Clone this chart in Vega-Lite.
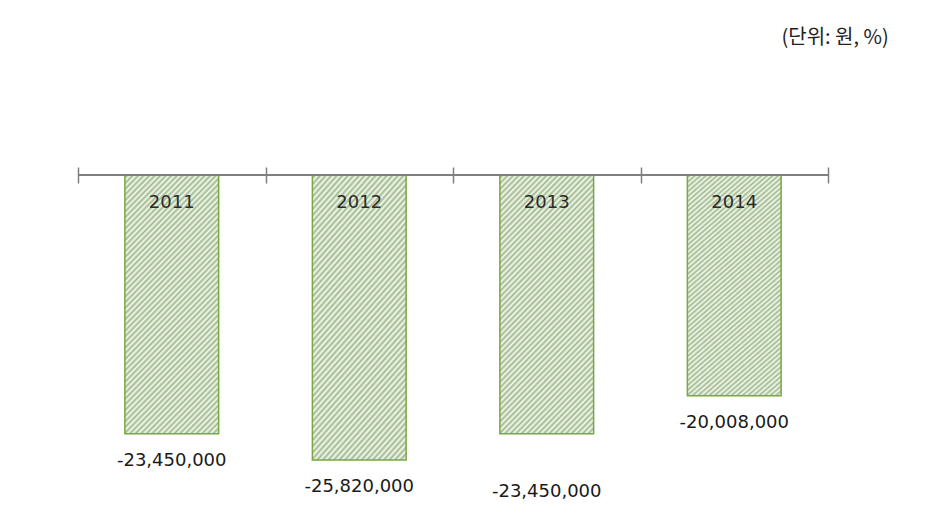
{
  "$schema": "https://vega.github.io/schema/vega-lite/v6.json",
  "width": 750,
  "height": 331,
  "autosize": {"type": "none"},
  "padding": {"left": 78, "top": 175, "right": 121, "bottom": 17},
  "background": "white",
  "config": {
    "view": {"stroke": null},
    "locale": {"number": {"decimal": ".", "thousands": ",", "grouping": [3], "currency": ["", ""], "minus": "-"}}
  },
  "title": {
    "text": "(단위: 원, %)",
    "anchor": "end",
    "dx": 60,
    "offset": 118,
    "fontSize": 20,
    "font": "Noto Sans CJK KR",
    "fontWeight": "normal",
    "color": "#222222"
  },
  "data": {
    "values": [
      {"year": "2011", "value": -23450000},
      {"year": "2012", "value": -25820000},
      {"year": "2013", "value": -23450000},
      {"year": "2014", "value": -20008000}
    ]
  },
  "resolve": {"scale": {"x": "independent"}, "axis": {"x": "independent"}},
  "layer": [
    {
      "mark": {
        "type": "bar",
        "stroke": "#77a843",
        "strokeWidth": 1.5,
        "fill": {
          "gradient": "linear",
          "x1": 0, "y1": 0, "x2": 0.446, "y2": 1.205,
          "stops": [
            {"offset": 0, "color": "#f4fbee"}, {"offset": 0.008, "color": "#a1b78f"}, {"offset": 0.016, "color": "#f4fbee"}, {"offset": 0.024, "color": "#a1b78f"}, {"offset": 0.032, "color": "#f4fbee"}, {"offset": 0.04, "color": "#a1b78f"}, {"offset": 0.048, "color": "#f4fbee"}, {"offset": 0.056, "color": "#a1b78f"}, {"offset": 0.064, "color": "#f4fbee"}, {"offset": 0.072, "color": "#a1b78f"},
            {"offset": 0.08, "color": "#f4fbee"}, {"offset": 0.088, "color": "#a1b78f"}, {"offset": 0.096, "color": "#f4fbee"}, {"offset": 0.104, "color": "#a1b78f"}, {"offset": 0.112, "color": "#f4fbee"}, {"offset": 0.12, "color": "#a1b78f"}, {"offset": 0.128, "color": "#f4fbee"}, {"offset": 0.136, "color": "#a1b78f"}, {"offset": 0.144, "color": "#f4fbee"}, {"offset": 0.152, "color": "#a1b78f"},
            {"offset": 0.16, "color": "#f4fbee"}, {"offset": 0.168, "color": "#a1b78f"}, {"offset": 0.176, "color": "#f4fbee"}, {"offset": 0.184, "color": "#a1b78f"}, {"offset": 0.192, "color": "#f4fbee"}, {"offset": 0.2, "color": "#a1b78f"}, {"offset": 0.208, "color": "#f4fbee"}, {"offset": 0.216, "color": "#a1b78f"}, {"offset": 0.224, "color": "#f4fbee"}, {"offset": 0.232, "color": "#a1b78f"},
            {"offset": 0.24, "color": "#f4fbee"}, {"offset": 0.248, "color": "#a1b78f"}, {"offset": 0.256, "color": "#f4fbee"}, {"offset": 0.264, "color": "#a1b78f"}, {"offset": 0.272, "color": "#f4fbee"}, {"offset": 0.28, "color": "#a1b78f"}, {"offset": 0.288, "color": "#f4fbee"}, {"offset": 0.296, "color": "#a1b78f"}, {"offset": 0.304, "color": "#f4fbee"}, {"offset": 0.312, "color": "#a1b78f"},
            {"offset": 0.32, "color": "#f4fbee"}, {"offset": 0.328, "color": "#a1b78f"}, {"offset": 0.336, "color": "#f4fbee"}, {"offset": 0.344, "color": "#a1b78f"}, {"offset": 0.352, "color": "#f4fbee"}, {"offset": 0.36, "color": "#a1b78f"}, {"offset": 0.368, "color": "#f4fbee"}, {"offset": 0.376, "color": "#a1b78f"}, {"offset": 0.384, "color": "#f4fbee"}, {"offset": 0.392, "color": "#a1b78f"},
            {"offset": 0.4, "color": "#f4fbee"}, {"offset": 0.408, "color": "#a1b78f"}, {"offset": 0.416, "color": "#f4fbee"}, {"offset": 0.424, "color": "#a1b78f"}, {"offset": 0.432, "color": "#f4fbee"}, {"offset": 0.44, "color": "#a1b78f"}, {"offset": 0.448, "color": "#f4fbee"}, {"offset": 0.456, "color": "#a1b78f"}, {"offset": 0.464, "color": "#f4fbee"}, {"offset": 0.472, "color": "#a1b78f"},
            {"offset": 0.48, "color": "#f4fbee"}, {"offset": 0.488, "color": "#a1b78f"}, {"offset": 0.496, "color": "#f4fbee"}, {"offset": 0.504, "color": "#a1b78f"}, {"offset": 0.512, "color": "#f4fbee"}, {"offset": 0.52, "color": "#a1b78f"}, {"offset": 0.528, "color": "#f4fbee"}, {"offset": 0.536, "color": "#a1b78f"}, {"offset": 0.544, "color": "#f4fbee"}, {"offset": 0.552, "color": "#a1b78f"},
            {"offset": 0.56, "color": "#f4fbee"}, {"offset": 0.568, "color": "#a1b78f"}, {"offset": 0.576, "color": "#f4fbee"}, {"offset": 0.584, "color": "#a1b78f"}, {"offset": 0.592, "color": "#f4fbee"}, {"offset": 0.6, "color": "#a1b78f"}, {"offset": 0.608, "color": "#f4fbee"}, {"offset": 0.616, "color": "#a1b78f"}, {"offset": 0.624, "color": "#f4fbee"}, {"offset": 0.632, "color": "#a1b78f"},
            {"offset": 0.64, "color": "#f4fbee"}, {"offset": 0.648, "color": "#a1b78f"}, {"offset": 0.656, "color": "#f4fbee"}, {"offset": 0.664, "color": "#a1b78f"}, {"offset": 0.672, "color": "#f4fbee"}, {"offset": 0.68, "color": "#a1b78f"}, {"offset": 0.688, "color": "#f4fbee"}, {"offset": 0.696, "color": "#a1b78f"}, {"offset": 0.704, "color": "#f4fbee"}, {"offset": 0.712, "color": "#a1b78f"},
            {"offset": 0.72, "color": "#f4fbee"}, {"offset": 0.728, "color": "#a1b78f"}, {"offset": 0.736, "color": "#f4fbee"}, {"offset": 0.744, "color": "#a1b78f"}, {"offset": 0.752, "color": "#f4fbee"}, {"offset": 0.76, "color": "#a1b78f"}, {"offset": 0.768, "color": "#f4fbee"}, {"offset": 0.776, "color": "#a1b78f"}, {"offset": 0.784, "color": "#f4fbee"}, {"offset": 0.792, "color": "#a1b78f"},
            {"offset": 0.8, "color": "#f4fbee"}, {"offset": 0.808, "color": "#a1b78f"}, {"offset": 0.816, "color": "#f4fbee"}, {"offset": 0.824, "color": "#a1b78f"}, {"offset": 0.832, "color": "#f4fbee"}, {"offset": 0.84, "color": "#a1b78f"}, {"offset": 0.848, "color": "#f4fbee"}, {"offset": 0.856, "color": "#a1b78f"}, {"offset": 0.864, "color": "#f4fbee"}, {"offset": 0.872, "color": "#a1b78f"},
            {"offset": 0.88, "color": "#f4fbee"}, {"offset": 0.888, "color": "#a1b78f"}, {"offset": 0.896, "color": "#f4fbee"}, {"offset": 0.904, "color": "#a1b78f"}, {"offset": 0.912, "color": "#f4fbee"}, {"offset": 0.92, "color": "#a1b78f"}, {"offset": 0.928, "color": "#f4fbee"}, {"offset": 0.936, "color": "#a1b78f"}, {"offset": 0.944, "color": "#f4fbee"}, {"offset": 0.952, "color": "#a1b78f"},
            {"offset": 0.96, "color": "#f4fbee"}, {"offset": 0.968, "color": "#a1b78f"}, {"offset": 0.976, "color": "#f4fbee"}, {"offset": 0.984, "color": "#a1b78f"}, {"offset": 0.992, "color": "#f4fbee"}, {"offset": 1, "color": "#a1b78f"}
          ]
        }
      },
      "encoding": {
        "x": {
          "field": "year",
          "type": "nominal",
          "scale": {"paddingInner": 0.5, "paddingOuter": 0.25},
          "axis": null
        },
        "y": {
          "field": "value",
          "type": "quantitative",
          "scale": {"domain": [-30000000, 0], "nice": false},
          "axis": null
        }
      }
    },
    {
      "mark": {"type": "rule", "color": "#7f7f7f", "strokeWidth": 1.5},
      "encoding": {"y": {"datum": 0, "type": "quantitative"}}
    },
    {
      "mark": {"type": "text", "dy": 28, "baseline": "middle", "align": "center", "font": "DejaVu Sans", "fontSize": 18, "color": "#2b2b2b"},
      "encoding": {
        "x": {
          "field": "year",
          "type": "nominal",
          "scale": {"paddingInner": 0, "paddingOuter": 0},
          "axis": {
            "orient": "top",
            "domain": false,
            "labels": false,
            "title": null,
            "tickBand": "extent",
            "tickSize": 16,
            "offset": -8,
            "tickColor": "#7f7f7f",
            "tickWidth": 1.5
          }
        },
        "y": {"datum": 0, "type": "quantitative"},
        "text": {"field": "year", "type": "nominal"}
      }
    },
    {
      "transform": [{"filter": "datum.year !== '2013'"}],
      "mark": {"type": "text", "dy": 27, "baseline": "middle", "align": "center", "font": "DejaVu Sans", "fontSize": 18, "color": "#1a1a1a"},
      "encoding": {
        "x": {
          "field": "year",
          "type": "nominal",
          "scale": {"domain": ["2011", "2012", "2013", "2014"], "paddingInner": 0, "paddingOuter": 0},
          "axis": null
        },
        "y": {"field": "value", "type": "quantitative"},
        "text": {"field": "value", "type": "quantitative", "format": ","}
      }
    },
    {
      "transform": [{"filter": "datum.year === '2013'"}],
      "mark": {"type": "text", "dy": 58, "baseline": "middle", "align": "center", "font": "DejaVu Sans", "fontSize": 18, "color": "#1a1a1a"},
      "encoding": {
        "x": {
          "field": "year",
          "type": "nominal",
          "scale": {"domain": ["2011", "2012", "2013", "2014"], "paddingInner": 0, "paddingOuter": 0},
          "axis": null
        },
        "y": {"field": "value", "type": "quantitative"},
        "text": {"field": "value", "type": "quantitative", "format": ","}
      }
    }
  ]
}
